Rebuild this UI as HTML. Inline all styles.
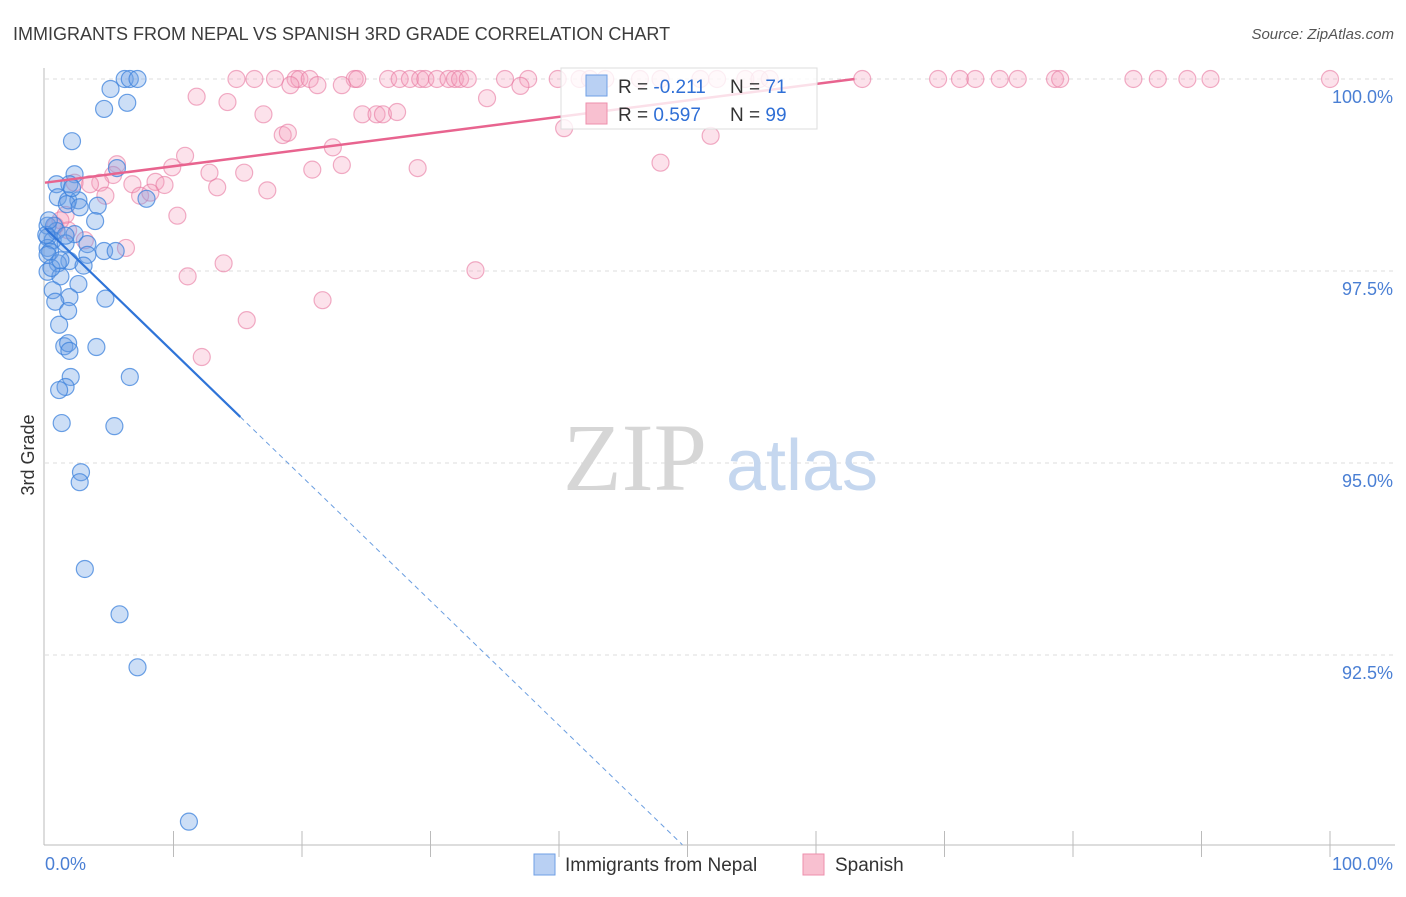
<!DOCTYPE html>
<html><head><meta charset="utf-8"><style>
body{margin:0;background:#fff;width:1406px;height:892px;overflow:hidden;font-family:"Liberation Sans",sans-serif}
</style></head><body>
<svg width="1406" height="892" xmlns="http://www.w3.org/2000/svg">
<text x="13" y="40" font-size="18" fill="#3c3c3c">IMMIGRANTS FROM NEPAL VS SPANISH 3RD GRADE CORRELATION CHART</text>
<text x="1394" y="39" font-size="15" fill="#555" font-style="italic" text-anchor="end">Source: ZipAtlas.com</text>
<g id="grid"></g>
<g>
<text x="635" y="490" font-size="96" font-family="Liberation Serif,serif" fill="#d6d6d6" text-anchor="middle">ZIP</text>
<text x="802" y="490" font-size="72" fill="#c5d7ef" text-anchor="middle">atlas</text>
</g>
<line x1="44" y1="68" x2="44" y2="845" stroke="#bbb"/>
<line x1="44" y1="845" x2="1395" y2="845" stroke="#bbb"/>
<g id="xticks"></g>
<g id="ylabels"></g>
<text x="45" y="870" font-size="18" fill="#4a7fd4">0.0%</text>
<text x="1393" y="870" font-size="18" fill="#4a7fd4" text-anchor="end">100.0%</text>
<text transform="translate(34,455) rotate(-90)" font-size="18" fill="#333" text-anchor="middle">3rd Grade</text>
<g id="pinkpts"></g>
<g id="bluepts"></g>
<g id="lines"></g>
<g>
<rect x="561" y="68" width="256" height="61" fill="rgba(255,255,255,0.8)" stroke="#ddd"/>
<rect x="586" y="75" width="21" height="21" fill="#b9d0f3" stroke="#6f9fe6"/>
<rect x="586" y="103" width="21" height="21" fill="#f8c0d0" stroke="#ee8fac"/>
<text x="618" y="93" font-size="19" fill="#333">R = <tspan fill="#2f6fd6">-0.211</tspan></text>
<text x="730" y="93" font-size="19" fill="#333">N = <tspan fill="#2f6fd6">71</tspan></text>
<text x="618" y="121" font-size="19" fill="#333">R = <tspan fill="#2f6fd6">0.597</tspan></text>
<text x="730" y="121" font-size="19" fill="#333">N = <tspan fill="#2f6fd6">99</tspan></text>
</g>
<g>
<rect x="534" y="854" width="21" height="21" fill="#b9d0f3" stroke="#6f9fe6"/>
<text x="565" y="871" font-size="19" fill="#333">Immigrants from Nepal</text>
<rect x="803" y="854" width="21" height="21" fill="#f8c0d0" stroke="#ee8fac"/>
<text x="835" y="871" font-size="19" fill="#333">Spanish</text>
</g>
</svg>
<script>
const yTicks=[100,97.5,95,92.5];
const yTickLabels=["100.0%","97.5%","95.0%","92.5%"];
const xTicks=[10,20,30,40,50,60,70,80,90,100];
const blueX=[6.2,6.6,7.2,5.1,6.4,4.6,2.1,2.3,0.9,1.9,1.0,1.8,2.6,1.7,4.1,5.6,7.9,0.2,0.7,0.9,0.2,0.6,2.3,3.9,3.3,1.6,0.2,0.4,4.6,5.5,3.3,1.9,3.0,1.0,0.2,1.2,2.6,0.6,1.9,0.8,4.7,1.8,1.1,1.5,1.8,1.9,4.0,2.0,6.6,1.6,1.1,1.3,5.4,2.8,2.7,3.1,5.8,7.2,11.2,0.2,0.5,1.2,1.6,0.1,0.3,2.7,2.1];
const blueY=[100,100,100,99.87,99.69,99.61,99.19,98.76,98.63,98.63,98.46,98.42,98.42,98.37,98.35,98.84,98.44,98.09,98.09,98.02,97.94,97.90,97.98,98.15,97.85,97.86,97.80,97.75,97.76,97.76,97.71,97.63,97.57,97.60,97.49,97.43,97.33,97.25,97.16,97.10,97.14,96.98,96.80,96.52,96.56,96.46,96.51,96.12,96.12,95.99,95.95,95.52,95.48,94.88,94.75,93.62,93.03,92.34,90.33,97.71,97.54,97.64,97.96,97.97,98.16,98.33,98.58];
const pinkX=[14.9,16.3,17.9,19.5,19.8,20.6,24.1,24.3,26.7,27.6,28.4,29.2,29.6,30.5,31.4,31.9,32.3,32.9,35.8,37.6,39.9,41.6,42.4,43.6,46.3,47.9,51.0,52.3,54.5,55.6,56.4,63.6,69.5,71.2,72.4,74.3,75.7,78.6,79.0,84.7,86.6,88.9,90.7,100,
21.2,23.1,19.1,37.0,11.8,14.2,34.4,17.0,24.7,25.8,26.3,27.4,40.4,18.5,18.9,22.4,10.9,9.9,12.8,15.5,23.1,20.8,29.0,47.9,51.8,5.6,5.3,4.3,6.8,8.6,9.3,13.4,17.3,4.7,7.4,8.2,3.5,2.3,1.6,10.3,3.1,6.3,13.9,11.1,33.5,21.6,15.7,12.2,1.8,0.8,1.2];
const pinkY=[100,100,100,100,100,100,100,100,100,100,100,100,100,100,100,100,100,100,100,100,100,100,100,100,100,100,100,100,100,100,100,100,100,100,100,100,100,100,100,100,100,100,100,100,
99.92,99.92,99.92,99.91,99.77,99.70,99.75,99.54,99.54,99.54,99.54,99.57,99.36,99.27,99.30,99.11,99.00,98.85,98.78,98.78,98.88,98.82,98.84,98.91,99.26,98.89,98.75,98.65,98.63,98.66,98.62,98.59,98.55,98.48,98.48,98.52,98.63,98.65,98.23,98.22,97.90,97.80,97.60,97.43,97.51,97.12,96.86,96.38,98.03,98.09,98.16];
const blueTrend=[[0,98.06],[15.2,95.6],[49.6,90.03]];
const pinkTrend=[[0,98.65],[63,100]];

const NS="http://www.w3.org/2000/svg";
const sx=v=>45+v*12.85;
const sy=v=>79+(100-v)*76.8;
function mk(tag,attrs,parent){const e=document.createElementNS(NS,tag);for(const k in attrs)e.setAttribute(k,attrs[k]);document.getElementById(parent).appendChild(e);return e;}
yTicks.forEach((t,i)=>{
  const g=mk('line',{x1:45,x2:1395,y1:sy(t),y2:sy(t),stroke:'#ddd','stroke-dasharray':'4,4'},'grid');
  
  
  const l=mk('text',{x:1393,y:sy(t)+24,'font-size':18,fill:'#4a7fd4','text-anchor':'end'},'ylabels');
  l.textContent=yTickLabels[i];
  
  
});
xTicks.forEach(t=>{
  const l=mk('line',{x1:sx(t),x2:sx(t),y1:831,y2:857,stroke:'#bbb'},'xticks');
  
  
});
pinkX.forEach((x,i)=>{
  const c=mk('circle',{cx:sx(x),cy:sy(pinkY[i]),r:8.5,fill:'rgba(244,160,188,0.3)',stroke:'rgba(232,120,160,0.6)','stroke-width':1.2},'pinkpts');
  
  
});
blueX.forEach((x,i)=>{
  const c=mk('circle',{cx:sx(x),cy:sy(blueY[i]),r:8.5,fill:'rgba(110,160,230,0.35)',stroke:'rgba(60,130,220,0.75)','stroke-width':1.2},'bluepts');
  
  
});
const pl=mk('line',{x1:sx(pinkTrend[0][0]),y1:sy(pinkTrend[0][1]),x2:sx(pinkTrend[1][0]),y2:sy(pinkTrend[1][1]),stroke:'#e8648f','stroke-width':2.5},'lines');


const bl=mk('line',{x1:sx(blueTrend[0][0]),y1:sy(blueTrend[0][1]),x2:sx(blueTrend[1][0]),y2:sy(blueTrend[1][1]),stroke:'#2f74d8','stroke-width':2.2},'lines');


const bd=mk('line',{x1:sx(blueTrend[1][0]),y1:sy(blueTrend[1][1]),x2:sx(blueTrend[2][0]),y2:sy(blueTrend[2][1]),stroke:'#6b9ee0','stroke-width':1,'stroke-dasharray':'5,4'},'lines');


</script>
</body></html>
